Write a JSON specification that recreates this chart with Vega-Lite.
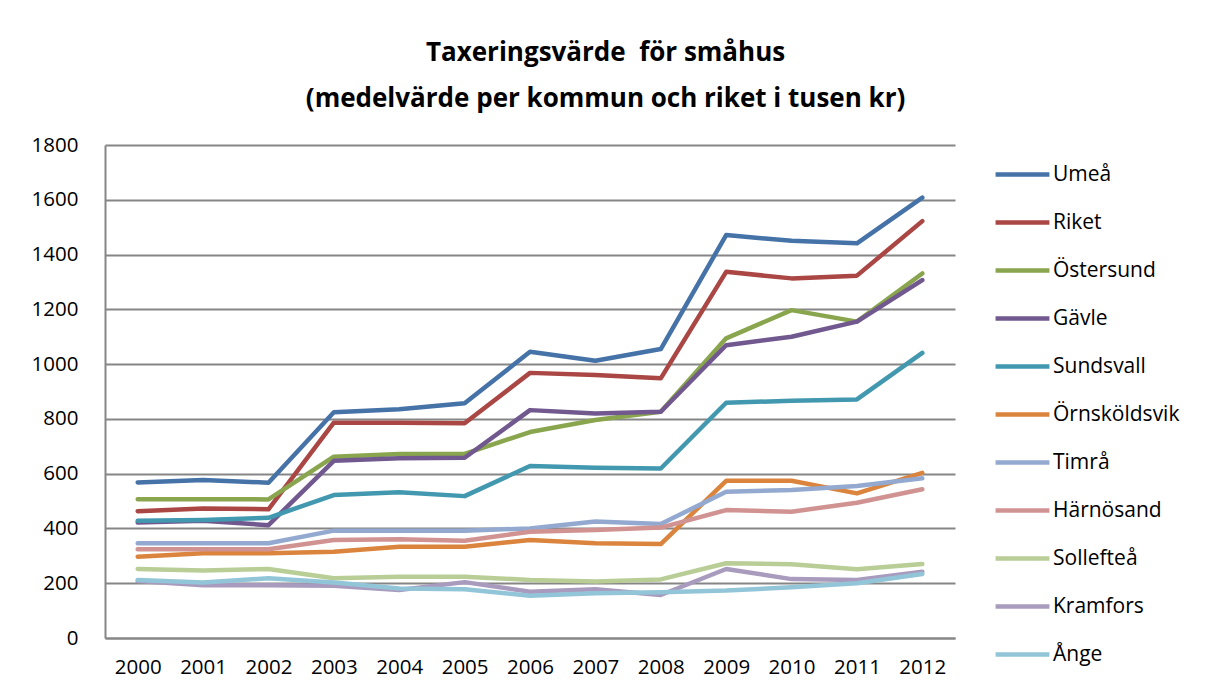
{
  "$schema": "https://vega.github.io/schema/vega-lite/v6.json",
  "width": 850,
  "height": 493,
  "autosize": {"type": "none"},
  "padding": {"left": 105, "top": 145, "right": 251, "bottom": 59},
  "background": "white",
  "title": {
    "text": ["Taxeringsvärde \u00a0för småhus", "(medelvärde per kommun och riket i tusen kr)"],
    "font": "Open Sans",
    "fontSize": 26,
    "fontWeight": "bold",
    "color": "black",
    "anchor": "middle",
    "frame": "bounds",
    "lineHeight": 46,
    "offset": 23
  },
  "data": {
    "values": [
      {"year": "2000", "kommun": "Umeå", "value": 568}, {"year": "2001", "kommun": "Umeå", "value": 577}, {"year": "2002", "kommun": "Umeå", "value": 567}, {"year": "2003", "kommun": "Umeå", "value": 824}, {"year": "2004", "kommun": "Umeå", "value": 835}, {"year": "2005", "kommun": "Umeå", "value": 857}, {"year": "2006", "kommun": "Umeå", "value": 1045}, {"year": "2007", "kommun": "Umeå", "value": 1012}, {"year": "2008", "kommun": "Umeå", "value": 1055}, {"year": "2009", "kommun": "Umeå", "value": 1471}, {"year": "2010", "kommun": "Umeå", "value": 1450}, {"year": "2011", "kommun": "Umeå", "value": 1441}, {"year": "2012", "kommun": "Umeå", "value": 1608},
      {"year": "2000", "kommun": "Riket", "value": 463}, {"year": "2001", "kommun": "Riket", "value": 473}, {"year": "2002", "kommun": "Riket", "value": 470}, {"year": "2003", "kommun": "Riket", "value": 786}, {"year": "2004", "kommun": "Riket", "value": 786}, {"year": "2005", "kommun": "Riket", "value": 784}, {"year": "2006", "kommun": "Riket", "value": 968}, {"year": "2007", "kommun": "Riket", "value": 960}, {"year": "2008", "kommun": "Riket", "value": 948}, {"year": "2009", "kommun": "Riket", "value": 1337}, {"year": "2010", "kommun": "Riket", "value": 1313}, {"year": "2011", "kommun": "Riket", "value": 1323}, {"year": "2012", "kommun": "Riket", "value": 1522},
      {"year": "2000", "kommun": "Östersund", "value": 507}, {"year": "2001", "kommun": "Östersund", "value": 507}, {"year": "2002", "kommun": "Östersund", "value": 506}, {"year": "2003", "kommun": "Östersund", "value": 662}, {"year": "2004", "kommun": "Östersund", "value": 672}, {"year": "2005", "kommun": "Östersund", "value": 672}, {"year": "2006", "kommun": "Östersund", "value": 752}, {"year": "2007", "kommun": "Östersund", "value": 796}, {"year": "2008", "kommun": "Östersund", "value": 826}, {"year": "2009", "kommun": "Östersund", "value": 1094}, {"year": "2010", "kommun": "Östersund", "value": 1197}, {"year": "2011", "kommun": "Östersund", "value": 1155}, {"year": "2012", "kommun": "Östersund", "value": 1331},
      {"year": "2000", "kommun": "Gävle", "value": 422}, {"year": "2001", "kommun": "Gävle", "value": 428}, {"year": "2002", "kommun": "Gävle", "value": 412}, {"year": "2003", "kommun": "Gävle", "value": 647}, {"year": "2004", "kommun": "Gävle", "value": 656}, {"year": "2005", "kommun": "Gävle", "value": 658}, {"year": "2006", "kommun": "Gävle", "value": 832}, {"year": "2007", "kommun": "Gävle", "value": 820}, {"year": "2008", "kommun": "Gävle", "value": 826}, {"year": "2009", "kommun": "Gävle", "value": 1069}, {"year": "2010", "kommun": "Gävle", "value": 1100}, {"year": "2011", "kommun": "Gävle", "value": 1155}, {"year": "2012", "kommun": "Gävle", "value": 1307},
      {"year": "2000", "kommun": "Sundsvall", "value": 428}, {"year": "2001", "kommun": "Sundsvall", "value": 431}, {"year": "2002", "kommun": "Sundsvall", "value": 439}, {"year": "2003", "kommun": "Sundsvall", "value": 522}, {"year": "2004", "kommun": "Sundsvall", "value": 532}, {"year": "2005", "kommun": "Sundsvall", "value": 518}, {"year": "2006", "kommun": "Sundsvall", "value": 628}, {"year": "2007", "kommun": "Sundsvall", "value": 622}, {"year": "2008", "kommun": "Sundsvall", "value": 619}, {"year": "2009", "kommun": "Sundsvall", "value": 859}, {"year": "2010", "kommun": "Sundsvall", "value": 866}, {"year": "2011", "kommun": "Sundsvall", "value": 871}, {"year": "2012", "kommun": "Sundsvall", "value": 1041},
      {"year": "2000", "kommun": "Örnsköldsvik", "value": 297}, {"year": "2001", "kommun": "Örnsköldsvik", "value": 309}, {"year": "2002", "kommun": "Örnsköldsvik", "value": 309}, {"year": "2003", "kommun": "Örnsköldsvik", "value": 315}, {"year": "2004", "kommun": "Örnsköldsvik", "value": 333}, {"year": "2005", "kommun": "Örnsköldsvik", "value": 333}, {"year": "2006", "kommun": "Örnsköldsvik", "value": 358}, {"year": "2007", "kommun": "Örnsköldsvik", "value": 346}, {"year": "2008", "kommun": "Örnsköldsvik", "value": 343}, {"year": "2009", "kommun": "Örnsköldsvik", "value": 574}, {"year": "2010", "kommun": "Örnsköldsvik", "value": 574}, {"year": "2011", "kommun": "Örnsköldsvik", "value": 528}, {"year": "2012", "kommun": "Örnsköldsvik", "value": 603},
      {"year": "2000", "kommun": "Timrå", "value": 346}, {"year": "2001", "kommun": "Timrå", "value": 346}, {"year": "2002", "kommun": "Timrå", "value": 346}, {"year": "2003", "kommun": "Timrå", "value": 392}, {"year": "2004", "kommun": "Timrå", "value": 392}, {"year": "2005", "kommun": "Timrå", "value": 392}, {"year": "2006", "kommun": "Timrå", "value": 400}, {"year": "2007", "kommun": "Timrå", "value": 425}, {"year": "2008", "kommun": "Timrå", "value": 416}, {"year": "2009", "kommun": "Timrå", "value": 534}, {"year": "2010", "kommun": "Timrå", "value": 540}, {"year": "2011", "kommun": "Timrå", "value": 555}, {"year": "2012", "kommun": "Timrå", "value": 583},
      {"year": "2000", "kommun": "Härnösand", "value": 324}, {"year": "2001", "kommun": "Härnösand", "value": 324}, {"year": "2002", "kommun": "Härnösand", "value": 324}, {"year": "2003", "kommun": "Härnösand", "value": 358}, {"year": "2004", "kommun": "Härnösand", "value": 361}, {"year": "2005", "kommun": "Härnösand", "value": 355}, {"year": "2006", "kommun": "Härnösand", "value": 388}, {"year": "2007", "kommun": "Härnösand", "value": 394}, {"year": "2008", "kommun": "Härnösand", "value": 403}, {"year": "2009", "kommun": "Härnösand", "value": 467}, {"year": "2010", "kommun": "Härnösand", "value": 461}, {"year": "2011", "kommun": "Härnösand", "value": 494}, {"year": "2012", "kommun": "Härnösand", "value": 543},
      {"year": "2000", "kommun": "Sollefteå", "value": 252}, {"year": "2001", "kommun": "Sollefteå", "value": 246}, {"year": "2002", "kommun": "Sollefteå", "value": 252}, {"year": "2003", "kommun": "Sollefteå", "value": 218}, {"year": "2004", "kommun": "Sollefteå", "value": 224}, {"year": "2005", "kommun": "Sollefteå", "value": 224}, {"year": "2006", "kommun": "Sollefteå", "value": 212}, {"year": "2007", "kommun": "Sollefteå", "value": 206}, {"year": "2008", "kommun": "Sollefteå", "value": 214}, {"year": "2009", "kommun": "Sollefteå", "value": 273}, {"year": "2010", "kommun": "Sollefteå", "value": 269}, {"year": "2011", "kommun": "Sollefteå", "value": 251}, {"year": "2012", "kommun": "Sollefteå", "value": 270},
      {"year": "2000", "kommun": "Kramfors", "value": 208}, {"year": "2001", "kommun": "Kramfors", "value": 193}, {"year": "2002", "kommun": "Kramfors", "value": 193}, {"year": "2003", "kommun": "Kramfors", "value": 191}, {"year": "2004", "kommun": "Kramfors", "value": 175}, {"year": "2005", "kommun": "Kramfors", "value": 204}, {"year": "2006", "kommun": "Kramfors", "value": 169}, {"year": "2007", "kommun": "Kramfors", "value": 178}, {"year": "2008", "kommun": "Kramfors", "value": 157}, {"year": "2009", "kommun": "Kramfors", "value": 252}, {"year": "2010", "kommun": "Kramfors", "value": 215}, {"year": "2011", "kommun": "Kramfors", "value": 212}, {"year": "2012", "kommun": "Kramfors", "value": 242},
      {"year": "2000", "kommun": "Ånge", "value": 212}, {"year": "2001", "kommun": "Ånge", "value": 203}, {"year": "2002", "kommun": "Ånge", "value": 218}, {"year": "2003", "kommun": "Ånge", "value": 203}, {"year": "2004", "kommun": "Ånge", "value": 181}, {"year": "2005", "kommun": "Ånge", "value": 178}, {"year": "2006", "kommun": "Ånge", "value": 154}, {"year": "2007", "kommun": "Ånge", "value": 163}, {"year": "2008", "kommun": "Ånge", "value": 167}, {"year": "2009", "kommun": "Ånge", "value": 173}, {"year": "2010", "kommun": "Ånge", "value": 185}, {"year": "2011", "kommun": "Ånge", "value": 200}, {"year": "2012", "kommun": "Ånge", "value": 234}
    ]
  },
  "mark": {"type": "line", "strokeWidth": 4.5, "strokeCap": "round", "strokeJoin": "round"},
  "encoding": {
    "x": {
      "field": "year",
      "type": "ordinal",
      "scale": {"type": "point", "padding": 0.5},
      "axis": {
        "title": null,
        "labelAngle": 0,
        "ticks": false,
        "grid": false,
        "domainColor": "#868686",
        "domainWidth": 2,
        "labelFont": "Open Sans",
        "labelFontSize": 20.5,
        "labelColor": "black",
        "labelPadding": 19
      }
    },
    "y": {
      "field": "value",
      "type": "quantitative",
      "scale": {"domain": [0, 1800], "nice": false},
      "axis": {
        "title": null,
        "values": [0, 200, 400, 600, 800, 1000, 1200, 1400, 1600, 1800],
        "format": "d",
        "ticks": false,
        "grid": true,
        "gridColor": "#868686",
        "gridWidth": 2,
        "gridOpacity": 1,
        "domainColor": "#868686",
        "domainWidth": 2,
        "labelFont": "Open Sans",
        "labelFontSize": 20.5,
        "labelColor": "black",
        "labelPadding": 27
      }
    },
    "color": {
      "field": "kommun",
      "type": "nominal",
      "sort": null,
      "scale": {
        "domain": ["Umeå", "Riket", "Östersund", "Gävle", "Sundsvall", "Örnsköldsvik", "Timrå", "Härnösand", "Sollefteå", "Kramfors", "Ånge"],
        "range": ["#4572A7", "#AA4643", "#89A54E", "#71588F", "#4198AF", "#DB843D", "#93A9CF", "#D19392", "#B9CD96", "#A99BBD", "#92C5D8"]
      },
      "legend": {
        "title": null,
        "orient": "right",
        "offset": 38,
        "padding": 0,
        "symbolType": "stroke",
        "symbolSize": 2900,
        "symbolStrokeWidth": 4.5,
        "labelFont": "Open Sans",
        "labelFontSize": 21,
        "labelColor": "black",
        "labelOffset": 1,
        "rowPadding": 8,
        "labelLimit": 200
      }
    }
  },
  "config": {"view": {"stroke": null}}
}
